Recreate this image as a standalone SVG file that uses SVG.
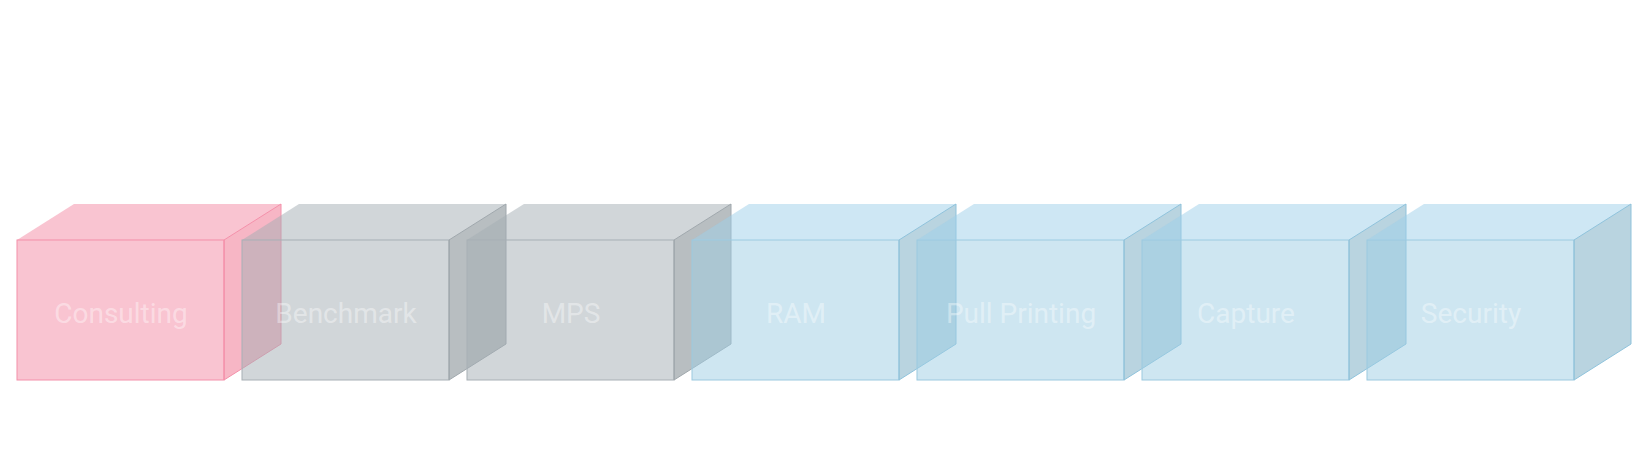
<svg xmlns="http://www.w3.org/2000/svg" width="1650" height="470" viewBox="0 0 1650 470">
<style>
.pink .front,.pink .top{fill:#f48aa3;fill-opacity:.5;stroke:#f490aa}
.pink .side{fill:#f07a96;fill-opacity:.55;stroke:#f490aa}
.gray .front,.gray .top{fill:#a3adb3;fill-opacity:.5;stroke:#a8b0b5}
.gray .side{fill:#7e888e;fill-opacity:.55;stroke:#a0a8ad}
.blue .front{fill:#9dcde4;fill-opacity:.5;stroke:#9cc9df}
.blue .top{fill:#9dd0ea;fill-opacity:.5}
.blue .side{fill:#7fb0c6;fill-opacity:.55;stroke:#8fc3dc}
.top{stroke-opacity:0}
text{font-family:Roboto,"Liberation Sans",sans-serif;font-size:28px;fill:#ffffff;fill-opacity:.4;text-anchor:middle}
</style>
<g id="consulting" class="pink" transform="translate(17,240)"><rect class="front" width="207" height="140"/><polygon class="top" points="0,0 57,-36 264,-36 207,0"/><polygon class="side" points="207,0 264,-36 264,104 207,140"/><text x="104" y="83">Consulting</text></g>
<g id="benchmark" class="gray" transform="translate(242,240)"><rect class="front" width="207" height="140"/><polygon class="top" points="0,0 57,-36 264,-36 207,0"/><polygon class="side" points="207,0 264,-36 264,104 207,140"/><text x="104" y="83">Benchmark</text></g>
<g id="mps" class="gray" transform="translate(467,240)"><rect class="front" width="207" height="140"/><polygon class="top" points="0,0 57,-36 264,-36 207,0"/><polygon class="side" points="207,0 264,-36 264,104 207,140"/><text x="104" y="83">MPS</text></g>
<g id="ram" class="blue" transform="translate(692,240)"><rect class="front" width="207" height="140"/><polygon class="top" points="0,0 57,-36 264,-36 207,0"/><polygon class="side" points="207,0 264,-36 264,104 207,140"/><text x="104" y="83">RAM</text></g>
<g id="pullprinting" class="blue" transform="translate(917,240)"><rect class="front" width="207" height="140"/><polygon class="top" points="0,0 57,-36 264,-36 207,0"/><polygon class="side" points="207,0 264,-36 264,104 207,140"/><text x="104" y="83">Pull Printing</text></g>
<g id="capture" class="blue" transform="translate(1142,240)"><rect class="front" width="207" height="140"/><polygon class="top" points="0,0 57,-36 264,-36 207,0"/><polygon class="side" points="207,0 264,-36 264,104 207,140"/><text x="104" y="83">Capture</text></g>
<g id="security" class="blue" transform="translate(1367,240)"><rect class="front" width="207" height="140"/><polygon class="top" points="0,0 57,-36 264,-36 207,0"/><polygon class="side" points="207,0 264,-36 264,104 207,140"/><text x="104" y="83">Security</text></g>
<g id="connectors"/>
</svg>
